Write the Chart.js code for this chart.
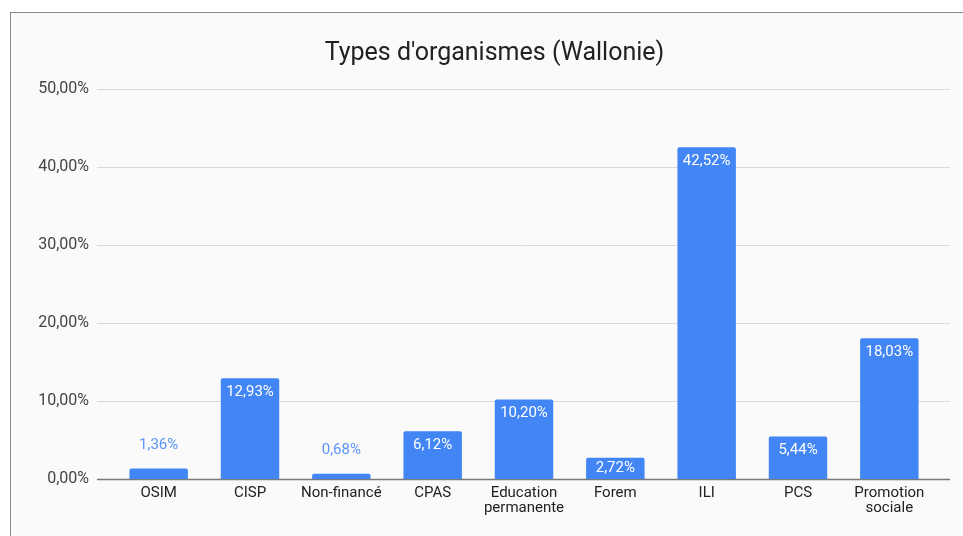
<!DOCTYPE html>
<html>
<head>
<meta charset="UTF-8">
<title>Types d'organismes (Wallonie)</title>
<script src="https://cdn.jsdelivr.net/npm/chart.js@4"></script>
<style>
html, body { margin: 0; padding: 0; background: #ffffff; overflow: hidden; }
.frame { position: absolute; left: 10px; top: 12px; width: 967px; height: 523px; border-top: 1px solid #8a8a8a; border-left: 1px solid #8a8a8a; background: #fafafa; }
</style>
</head>
<body>
<div class="frame">
  <canvas id="orgChart" width="967" height="523"></canvas>
</div>
<script>
// Chart data
const categories = ['OSIM', 'CISP', 'Non-financé', 'CPAS', ['Education', 'permanente'], 'Forem', 'ILI', 'PCS', ['Promotion', 'sociale']];
const shares     = [1.36, 12.93, 0.68, 6.12, 10.20, 2.72, 42.52, 5.44, 18.03];
const yTicks     = [0, 10, 20, 30, 40, 50];

const BAR_COLOR = '#4285f4';
const FONT      = 'Roboto, Arial, sans-serif';

const formatPct = (v) => v.toFixed(2).replace('.', ',') + '%';

// Grid lines are wider than the category band, so draw them ourselves
const gridPlugin = {
    id: 'wideGrid',
    beforeDatasetsDraw(chart) {
        const {ctx, chartArea, scales} = chart;
        const left  = chartArea.left - 16;
        const right = chartArea.right + 15;
        ctx.save();
        yTicks.forEach((t) => {
            const y = Math.round(scales.y.getPixelForValue(t)) + 0.5;
            ctx.strokeStyle = t === 0 ? '#7a7a7a' : '#dadada';
            ctx.lineWidth   = t === 0 ? 1.5 : 1;
            ctx.beginPath();
            ctx.moveTo(left, y);
            ctx.lineTo(right, y);
            ctx.stroke();
        });
        ctx.restore();
    }
};

// Value labels: inside the bar when it is tall enough, above it otherwise
const valueLabelPlugin = {
    id: 'valueLabels',
    afterDatasetsDraw(chart) {
        const {ctx} = chart;
        const meta  = chart.getDatasetMeta(0);
        ctx.save();
        ctx.font         = '15px ' + FONT;
        ctx.textAlign    = 'center';
        ctx.textBaseline = 'middle';
        meta.data.forEach((bar, i) => {
            const h = bar.base - bar.y;
            if (h > 16)
            {
                ctx.fillStyle = '#ffffff';
                ctx.fillText(formatPct(shares[i]), bar.x, bar.y + Math.min(14, h / 2));
            }
            else
            {
                ctx.fillStyle = '#5c95f5';
                ctx.fillText(formatPct(shares[i]), bar.x, bar.y - 23);
            }
        });
        ctx.restore();
    }
};

new Chart(document.getElementById('orgChart'), {
    type: 'bar',
    data: {
        labels: categories,
        datasets: [{
            data: shares,
            backgroundColor: BAR_COLOR,
            borderRadius: 2,
            borderSkipped: 'bottom',
            barPercentage: 0.64,
            categoryPercentage: 1.0,
        }]
    },
    options: {
        responsive: false,
        animation: false,
        layout: {padding: 0},
        plugins: {
            legend: {display: false},
            tooltip: {enabled: false},
            title: {
                display: true,
                text: "Types d'organismes (Wallonie)",
                color: '#222222',
                font: {family: FONT, size: 25, weight: 'normal'},
                padding: {top: 26, bottom: 20},
            },
        },
        scales: {
            x: {
                grid: {display: false, drawTicks: false},
                border: {display: false},
                ticks: {
                    color: '#222222',
                    font: {family: FONT, size: 15, lineHeight: 1.0},
                    padding: 7,
                    maxRotation: 0,
                    autoSkip: false,
                },
                afterFit(scale) { scale.height = 57; },
            },
            y: {
                min: 0,
                max: 50,
                grid: {display: false, drawTicks: false},
                border: {display: false},
                ticks: {
                    stepSize: 10,
                    color: '#444444',
                    font: {family: FONT, size: 16},
                    padding: 24,
                    callback: (v) => formatPct(v),
                },
                afterFit(scale) { scale.width = 102; },
            },
            // empty right axis that only reserves the right margin
            yRight: {
                position: 'right',
                min: 0,
                max: 50,
                grid: {display: false, drawTicks: false},
                border: {display: false},
                ticks: {display: false},
                afterFit(scale) { scale.width = 43; },
            },
        },
    },
    plugins: [gridPlugin, valueLabelPlugin],
});
</script>
</body>
</html>
